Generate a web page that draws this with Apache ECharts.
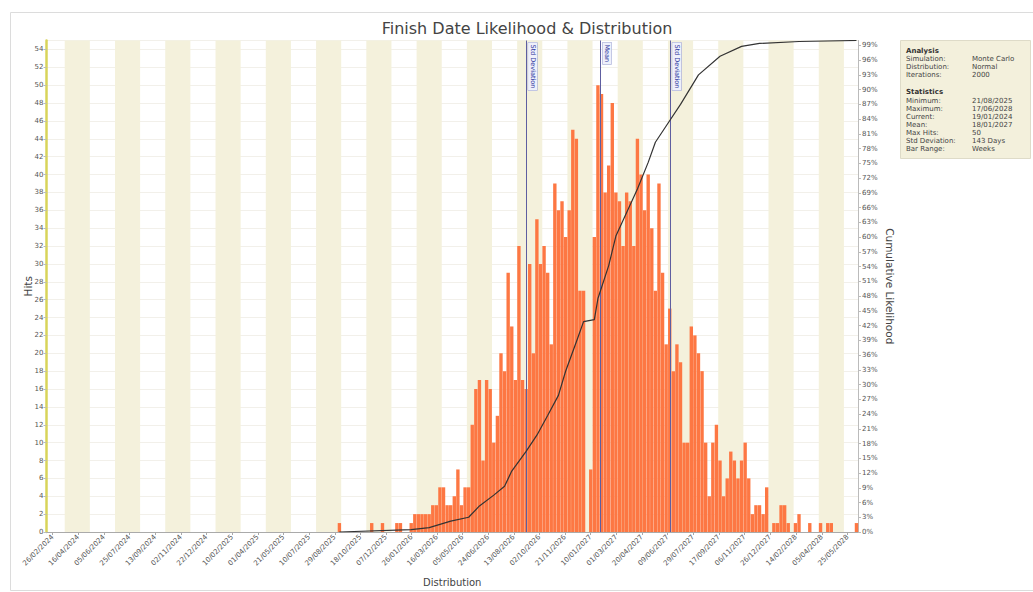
<!DOCTYPE html>
<html><head><meta charset="utf-8">
<script src="https://cdn.jsdelivr.net/npm/echarts@6/dist/echarts.min.js"></script>
<style>html,body{margin:0;padding:0;background:#fff}#c{width:1033px;height:592px}</style>
</head><body><div id="c"></div>
<script>
// ---- data ----
const xTickLabels = ['26/02/2024','16/04/2024','05/06/2024','25/07/2024','13/09/2024','02/11/2024','22/12/2024','10/02/2025','01/04/2025','21/05/2025','10/07/2025','29/08/2025','18/10/2025','07/12/2025','26/01/2026','16/03/2026','05/05/2026','24/06/2026','13/08/2026','02/10/2026','21/11/2026','10/01/2027','01/03/2027','20/04/2027','09/06/2027','29/07/2027','17/09/2027','06/11/2027','26/12/2027','14/02/2028','05/04/2028','25/05/2028'];
const axisStart = '2024-02-14';
const axisEnd = '2028-06-14';
const firstWeekStart = '2025-09-07';
const weeklyHits = [
 1,0,0,0,0,0,0,0,0,1, 0,0,1,0,0,0,1,1,0,0, 1,2,2,2,2,2,3,3,5,5, 3,3,4,
 7,3,5,5,12,16,17,8,17,16,10,13,20,18,29,23,17,32,17,16,30,20,35,30,32,29,21,39,36,37,33,36,45,44,27,27,0,7,33,50,49,38,41,48,38,37,32,38,37,32,44,40,36,40,34,27,39,
 29,21,25,18,21,19,10,10,
 23,22,20,18,10,4,10,12,8,4,6,9,8,6,8,10,6,2,3,3,2,5,
 0,1,1,3,3,1,0,1,2,0,0,1,0,0,1,0,1,1,0,0,0,0,0,0,1
];
const cumWeekIndex = [0,20,25,31,36,39,43,46,48,52,55,58,61,63,66,68,71,72,75,77,80,83,86,88,91,95,100,106,112,117,128,144];
const cumPercent   = [0,0.5,0.9,2.2,3.0,5.3,7.5,9.3,12.4,16.4,19.7,23.7,27.8,32.7,38.7,42.8,43.2,47.5,54.2,60.2,65,69.8,75.2,79.3,82.6,87,93,96.8,98.8,99.4,99.8,100];
const markerDates = ['2026-09-06','2027-01-29','2027-06-14'];
const markerNames = ['Std Deviation','Mean','Std Deviation'];
const panelAnalysis = [['Simulation:','Monte Carlo'],['Distribution:','Normal'],['Iterations:','2000']];
const panelStats = [['Minimum:','21/08/2025'],['Maximum:','17/06/2028'],['Current:','19/01/2024'],['Mean:','18/01/2027'],['Max Hits:','50'],['Std Deviation:','143 Days'],['Bar Range:','Weeks']];

// ---- helpers (x axis in days since 1970, UTC) ----
function parseDMY(s){const p=s.split('/');return Date.UTC(+p[2],+p[1]-1,+p[0])/86400000;}
function parseISO(s){const p=s.split('-');return Date.UTC(+p[0],+p[1]-1,+p[2])/86400000;}
const tickValues = xTickLabels.map(parseDMY);
const labelByValue = {}; tickValues.forEach((v,i)=>labelByValue[v]=xTickLabels[i]);
const w0 = parseISO(firstWeekStart);
const xMin = parseISO(axisStart), xMax = parseISO(axisEnd);
const barData = weeklyHits.map((h,i)=>[w0+i*7,h]);
const cumData = cumWeekIndex.map((k,i)=>[w0+k*7,cumPercent[i]]);
// background shading: alternate 7-week blocks aligned to the weekly bins
const bands = [];
for (let s = w0 + 3.5 - 49 - 98*10; s < xMax; s += 98) {
  const a = Math.max(s, xMin), b = Math.min(s + 49, xMax);
  if (b > a) bands.push([{xAxis:a},{xAxis:b}]);
}
const FONT = 'DejaVu Sans';

const panelTexts = [];
let py = 47;
panelTexts.push({type:'text',left:906,top:py,style:{text:'Analysis',font:'bold 7px '+FONT,fill:'#333'}});
py += 8.5;
panelAnalysis.forEach(r=>{panelTexts.push({type:'text',left:906,top:py,style:{text:r[0],font:'7px '+FONT,fill:'#444'}});panelTexts.push({type:'text',left:972,top:py,style:{text:r[1],font:'7px '+FONT,fill:'#444'}});py+=8;});
py += 9;
panelTexts.push({type:'text',left:906,top:py,style:{text:'Statistics',font:'bold 7px '+FONT,fill:'#333'}});
py += 8.5;
panelStats.forEach(r=>{panelTexts.push({type:'text',left:906,top:py,style:{text:r[0],font:'7px '+FONT,fill:'#444'}});panelTexts.push({type:'text',left:972,top:py,style:{text:r[1],font:'7px '+FONT,fill:'#444'}});py+=8;});

const chart = echarts.init(document.getElementById('c'),null,{renderer:'svg'});
chart.setOption({
  animation:false,
  backgroundColor:'#ffffff',
  title:{text:'Finish Date Likelihood & Distribution',left:522,top:15,textAlign:'center',
    textStyle:{fontFamily:FONT,fontSize:16,fontWeight:'normal',color:'#444'}},
  grid:{left:46.5,right:175,top:40.5,bottom:57,containLabel:false},
  xAxis:{type:'value',min:xMin,max:xMax,
    name:'Distribution',nameLocation:'middle',nameGap:45,
    nameTextStyle:{fontFamily:FONT,fontSize:10,color:'#444'},
    axisLine:{lineStyle:{color:'#aaa'}},
    axisTick:{show:true,customValues:tickValues,length:3,lineStyle:{color:'#aaa'}},
    axisLabel:{customValues:tickValues,rotate:45,fontSize:7,fontFamily:FONT,color:'#555',margin:4,hideOverlap:false,
      formatter:(v)=>labelByValue[v]||''},
    splitLine:{show:false},
    splitArea:{show:false}
  },
  yAxis:[
    {type:'value',min:0,max:55,interval:2,name:'Hits',nameLocation:'middle',nameGap:13,nameMoveOverlap:false,
     nameTextStyle:{fontFamily:FONT,fontSize:10.5,color:'#444'},
     axisLine:{show:true,lineStyle:{color:'#d8d45a',width:2.5}},
     axisTick:{show:true,length:3,lineStyle:{color:'#bbb'}},
     axisLabel:{fontSize:7,fontFamily:FONT,color:'#555',margin:3,showMaxLabel:false},
     splitLine:{show:true,lineStyle:{color:'#e9e6dc',width:0.6}}},
    {type:'value',min:0,max:100,interval:3,name:'Cumulative Likelihood',nameLocation:'middle',nameGap:26,nameRotate:-90,nameMoveOverlap:false,
     nameTextStyle:{fontFamily:FONT,fontSize:10.5,color:'#444'},
     axisLine:{show:true,lineStyle:{color:'#bbb'}},
     axisTick:{show:true,length:3,lineStyle:{color:'#bbb'}},
     axisLabel:{fontSize:7,fontFamily:FONT,color:'#555',margin:4,showMaxLabel:false,formatter:'{value}%'},
     splitLine:{show:false}}
  ],
  series:[
    {type:'line',name:'bands',data:[],silent:true,z:-1,
     markArea:{silent:true,itemStyle:{color:'#f4f1dc'},data:bands}},
    {type:'bar',name:'Hits',data:barData,barCategoryGap:'6%',itemStyle:{color:'#fd7743'},z:2,
     markLine:{silent:true,symbol:['none','none'],
       lineStyle:{color:'#5e5ea0',width:1,type:'solid'},
       label:{show:true,position:'insideStartTop',formatter:'{b}',fontSize:6.5,fontFamily:FONT,color:'#3038a0',
         backgroundColor:'#eef0fb',borderColor:'#9aa0d0',borderWidth:0.5,padding:[1,2],distance:2},
       data:markerDates.map((d,k)=>[{name:markerNames[k],coord:[parseISO(d),55]},{coord:[parseISO(d),0]}])}
    },
    {type:'line',name:'Cumulative',yAxisIndex:1,data:cumData,showSymbol:false,symbol:'none',
     lineStyle:{color:'#333',width:1.2},z:5}
  ],
  graphic:[
    {type:'rect',shape:{x:10.5,y:12.5,width:1030,height:578},style:{fill:'none',stroke:'#dcdcdc',lineWidth:1},silent:true},
    {type:'rect',shape:{x:900.5,y:40.5,width:130,height:118},style:{fill:'#f3f0dc',stroke:'#dedbc8',lineWidth:1},silent:true},
    ...panelTexts
  ]
});
</script></body></html>
